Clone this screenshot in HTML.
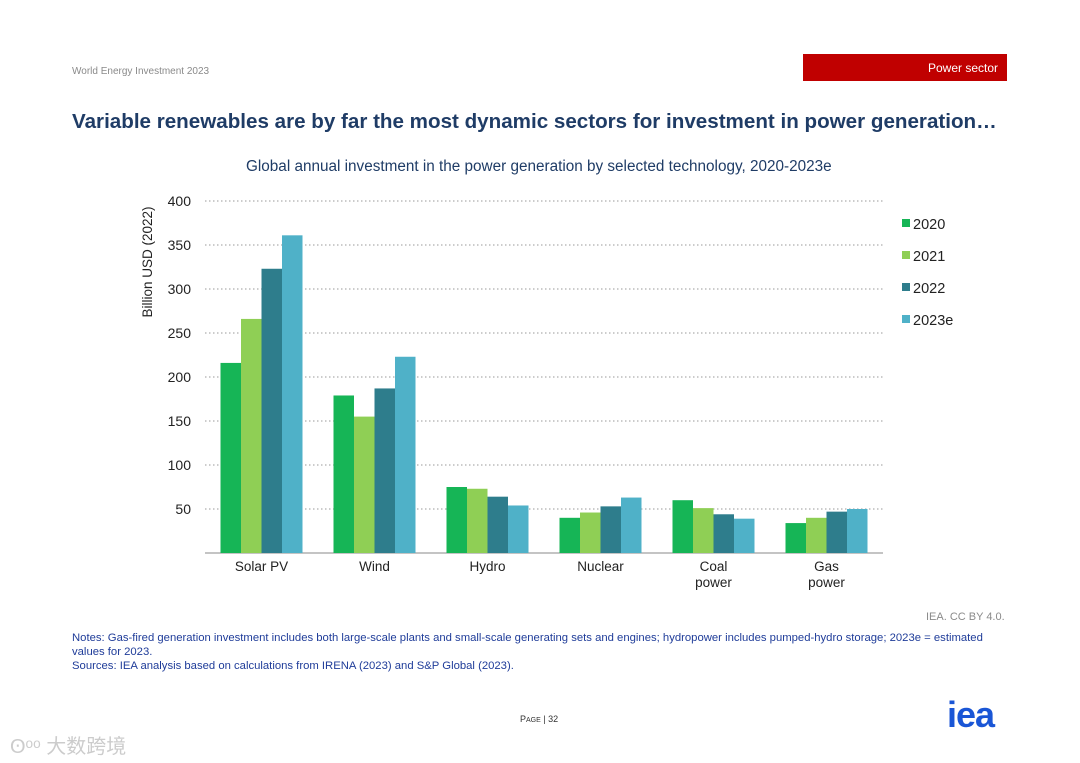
<!DOCTYPE html>
<html><head><meta charset="utf-8"><style>
body{margin:0;width:1080px;height:763px;background:#fff;position:relative;overflow:hidden;font-family:"Liberation Sans","Noto Sans CJK SC",sans-serif}
.abs{position:absolute;white-space:nowrap}
</style></head><body>
<div class="abs" style="left:72px;top:66px;font-size:10px;color:#8a8a8a">World Energy Investment 2023</div>
<div class="abs" style="left:803px;top:54px;width:204px;height:27px;background:#c00000;color:#fff;font-size:12px;line-height:28px;text-align:right;box-sizing:border-box;padding-right:9px">Power sector</div>
<div class="abs" style="left:72px;top:110px;font-size:20.6px;font-weight:bold;color:#1f3c66">Variable renewables are by far the most dynamic sectors for investment in power generation…</div>
<div class="abs" style="left:246px;top:158px;font-size:15.3px;color:#1f3c66">Global annual investment in the power generation by selected technology, 2020-2023e</div>
<svg class="abs" style="left:0;top:0" width="1080" height="763" id="chart"></svg>
<div class="abs" style="left:926px;top:611px;font-size:11px;color:#8a8a8a">IEA. CC BY 4.0.</div>
<div class="abs" style="left:72px;top:631px;width:940px;white-space:normal;font-size:11.3px;line-height:14px;color:#1f3c99">Notes: Gas-fired generation investment includes both large-scale plants and small-scale generating sets and engines; hydropower includes pumped-hydro storage; 2023e = estimated<br>values for 2023.<br>Sources: IEA analysis based on calculations from IRENA (2023) and S&amp;P Global (2023).</div>
<div class="abs" style="left:520px;top:714px;font-size:9px;color:#333">P<span style="font-size:7px">AGE</span> | 32</div>
<div class="abs" style="left:947px;top:694px;font-size:36px;font-weight:bold;color:#1a56d6;letter-spacing:-1px">iea</div>
<div class="abs" style="left:10px;top:730px;font-size:20px;color:#ccc">ʘᵒᵒ 大数跨境</div>
<script>
const categories=["Solar PV","Wind","Hydro","Nuclear","Coal\npower","Gas\npower"];
const seriesNames=["2020","2021","2022","2023e"];
const s2020=[216,179,75,40,60,34];
const s2021=[266,155,73,46,51,40];
const s2022=[323,187,64,53,44,47];
const s2023=[361,223,54,63,39,50];
const yTicks=[50,100,150,200,250,300,350,400];
const series=[s2020,s2021,s2022,s2023];
const colors=["#16b556","#8fcf55","#2e7d8c","#4fb1c8"];
const NS="http://www.w3.org/2000/svg";
const svg=document.getElementById('chart');
const x0=205,x1=883,y0=553,yTop=201;
const y=v=>y0-(v/400)*(y0-yTop);
const gw=(x1-x0)/categories.length;
function mk(t,a){const e=document.createElementNS(NS,t);for(const k in a)e.setAttribute(k,a[k]);svg.appendChild(e);return e;}
yTicks.forEach(t=>{
 const l=mk('line',{x1:x0,x2:x1,y1:y(t),y2:y(t),stroke:'#999','stroke-dasharray':'1.5,2.5','stroke-width':1});
 
 
 const tx=mk('text',{x:191,y:y(t)+5,'text-anchor':'end','font-size':14,fill:'#222'});
 tx.textContent=t;
 
 
});
const ax=mk('line',{x1:x0,x2:x1,y1:y0,y2:y0,stroke:'#888','stroke-width':1});


const yt=mk('text',{transform:'translate(152,262) rotate(-90)','text-anchor':'middle','font-size':13.5,fill:'#222'});
yt.textContent='Billion USD (2022)';


const bw=20.5;
categories.forEach((c,i)=>{
 const cx=x0+gw*(i+0.5);
 series.forEach((s,j)=>{
  const r=mk('rect',{x:cx-2*bw+j*bw,y:y(s[i]),width:bw,height:y0-y(s[i]),fill:colors[j]});
  
  
 });
 c.split('\n').forEach((ln,k)=>{
  const t=mk('text',{x:cx,y:571+k*16,'text-anchor':'middle','font-size':13.5,fill:'#222'});
  t.textContent=ln;
  
  
 });
});
seriesNames.forEach((n,j)=>{
 const ly=224+j*32;
 const r=mk('rect',{x:902,y:ly-5,width:8,height:8,fill:colors[j]});
 
 
 const t=mk('text',{x:913,y:ly+5,'font-size':14.5,fill:'#222'});
 t.textContent=n;
 
 
});
</script>
</body></html>
